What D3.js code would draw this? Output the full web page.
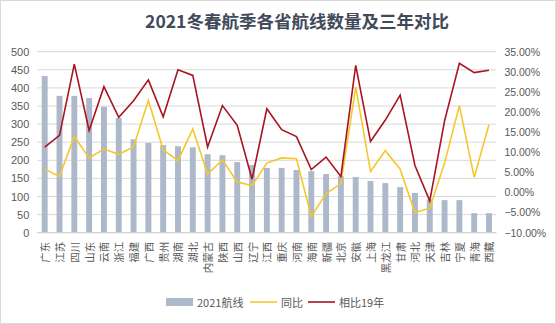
<!DOCTYPE html>
<html><head><meta charset="utf-8">
<script src="https://cdn.jsdelivr.net/npm/d3@7/dist/d3.min.js"></script>
<style>
body{margin:0;background:#fff;}
svg{display:block;font-family:"Liberation Sans","Noto Sans CJK SC",sans-serif;}
</style></head>
<body><svg id="c" width="556" height="324"></svg>
<script>
const categories = ["广东","江苏","四川","山东","云南","浙江","福建","广西","贵州","湖南","湖北","内蒙古","陕西","山西","辽宁","江西","重庆","河南","海南","新疆","北京","安徽","上海","黑龙江","甘肃","河北","天津","吉林","宁夏","青海","西藏"];
const routes2021 = [433,378,378,372,348,317,258,248,242,239,236,217,214,195,187,179,179,173,170,162,156,154,143,137,126,110,92,90,90,54,54];
const yoy = [5.8,4.0,13.9,8.6,10.8,9.5,11.3,22.9,10.6,7.9,15.8,4.6,8.1,2.6,1.7,7.3,8.6,8.4,-6.0,-0.3,2.2,26.2,5.2,10.4,5.8,-5.0,-3.9,7.3,21.6,3.8,16.9];
const vs2019 = [11.3,14.2,31.9,15.4,26.3,18.7,22.8,28.0,18.8,30.5,29.1,11.3,21.6,16.7,3.3,20.8,15.6,13.9,5.7,8.8,4.0,31.6,12.7,18.0,24.2,6.7,-2.1,17.8,32.1,29.8,30.4];
const leftTicks = [0,50,100,150,200,250,300,350,400,450,500];
const rightTicks = [-10,-5,0,5,10,15,20,25,30,35];
const title = "2021冬春航季各省航线数量及三年对比";
const legendLabels = ["2021航线","同比","相比19年"];

const svg = d3.select("#c");
const W=556,H=324;
const m = {l:37.3, r:556-496.4, t:51.7, b:324-232.7};
const colors = {bar:"#adb9ca", yoy:"#f5c72a", vs:"#a8141f", text:"#595959", grid:"#d9d9d9"};

svg.append("rect").attr("x",0.5).attr("y",0.5).attr("width",W-1).attr("height",H-1).attr("fill","#fff").attr("stroke","#d9d9d9");

const x = d3.scaleBand().domain(categories).range([m.l, W-m.r]).paddingInner(0.6).paddingOuter(0.3);
const xc = d => x(d) + x.bandwidth()/2;
const yL = d3.scaleLinear().domain([0,500]).range([H-m.b, m.t]);
const yR = d3.scaleLinear().domain([-10,35]).range([H-m.b, m.t]);

// grid
svg.append("g").selectAll("line").data(leftTicks).join("line")
  .attr("x1",m.l).attr("x2",W-m.r).attr("y1",d=>yL(d)).attr("y2",d=>yL(d))
  .attr("stroke",colors.grid).attr("stroke-width",1);

// left axis
const ga = svg.append("g").attr("transform",`translate(${m.l},0)`)
  .call(d3.axisLeft(yL).tickValues(leftTicks).tickSize(0).tickPadding(8));
ga.select(".domain").remove();
ga.selectAll("text").attr("font-size",11).attr("fill",colors.text).attr("font-family","Liberation Sans, sans-serif");

// right axis
const gr = svg.append("g").attr("transform",`translate(${W-m.r},0)`)
  .call(d3.axisRight(yR).tickValues(rightTicks).tickSize(0).tickPadding(8).tickFormat(d=>d3.format(".2f")(d)+"%"));
gr.select(".domain").remove();
gr.selectAll("text").attr("font-size",10.5).attr("fill",colors.text).attr("font-family","Liberation Sans, sans-serif");

// bars
svg.append("g").selectAll("rect").data(categories).join("rect")
  .attr("x",d=>x(d)).attr("width",x.bandwidth())
  .attr("y",(d,i)=>yL(routes2021[i])).attr("height",(d,i)=>yL(0)-yL(routes2021[i]))
  .attr("fill",colors.bar);

// bottom axis line
svg.append("line").attr("x1",m.l).attr("x2",W-m.r).attr("y1",yL(0)).attr("y2",yL(0)).attr("stroke","#d0d0d0");

// x labels
svg.append("g").selectAll("text").data(categories).join("text")
  .attr("transform",d=>`translate(${xc(d)},${yL(0)+9}) rotate(-90)`)
  .attr("text-anchor","end").attr("dominant-baseline","central")
  .attr("font-size",10.5).attr("fill",colors.text)
  .attr("font-family","Noto Sans CJK SC, sans-serif")
  .text(d=>d);

// lines
const line = arr => d3.line().x((d,i)=>xc(categories[i])).y(d=>yR(d))(arr);
svg.append("path").attr("d",line(yoy)).attr("fill","none").attr("stroke",colors.yoy).attr("stroke-width",1.6);
svg.append("path").attr("d",line(vs2019)).attr("fill","none").attr("stroke",colors.vs).attr("stroke-width",1.6);

// title
svg.append("text").attr("x",297).attr("y",28).attr("text-anchor","middle")
  .attr("font-size",17.5).attr("font-weight","bold").attr("fill","#404a5a")
  .attr("font-family","Noto Sans CJK SC, sans-serif").text(title);

// legend
const lg = svg.append("g").attr("font-size",11).attr("fill",colors.text).attr("font-family","Noto Sans CJK SC, sans-serif");
lg.append("rect").attr("x",166).attr("y",298).attr("width",27).attr("height",8).attr("fill",colors.bar);
lg.append("text").attr("x",197).attr("y",302).attr("dominant-baseline","central").text(legendLabels[0]);
lg.append("line").attr("x1",250).attr("x2",277).attr("y1",302).attr("y2",302).attr("stroke",colors.yoy).attr("stroke-width",1.6);
lg.append("text").attr("x",281).attr("y",302).attr("dominant-baseline","central").text(legendLabels[1]);
lg.append("line").attr("x1",308).attr("x2",335).attr("y1",302).attr("y2",302).attr("stroke",colors.vs).attr("stroke-width",1.6);
lg.append("text").attr("x",339).attr("y",302).attr("dominant-baseline","central").text(legendLabels[2]);
</script></body></html>
